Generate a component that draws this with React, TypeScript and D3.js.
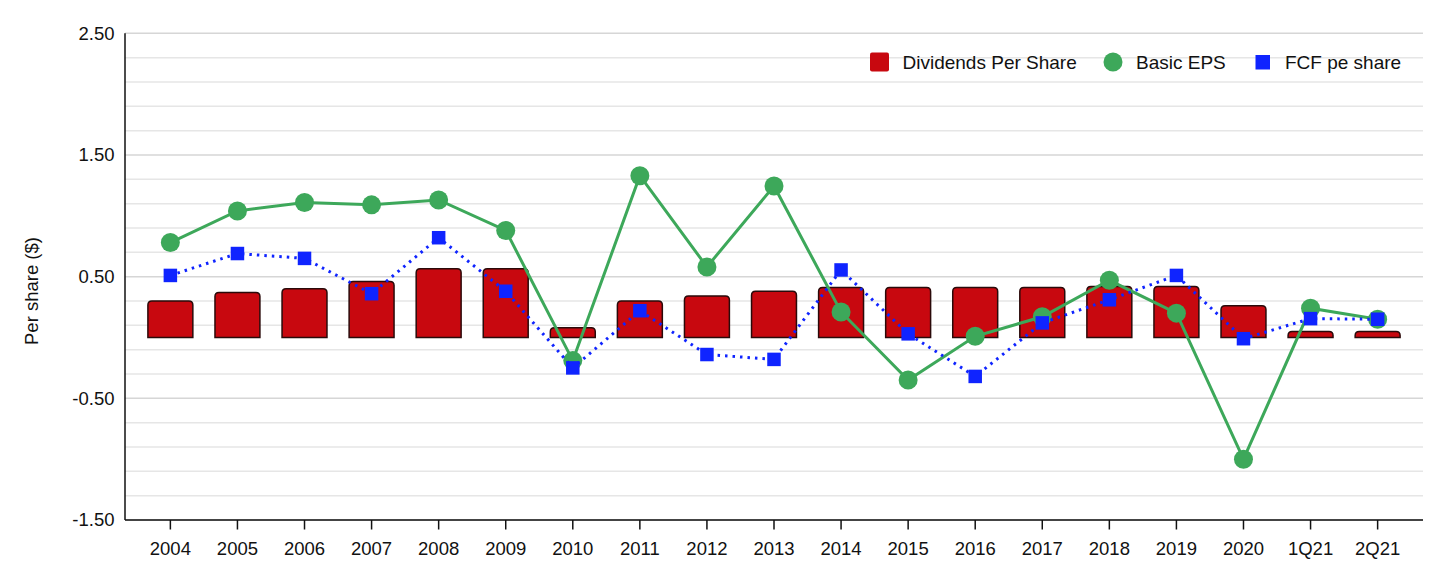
import React from "react";
import * as d3 from "d3";

const categories = ["2004","2005","2006","2007","2008","2009","2010","2011","2012","2013","2014","2015","2016","2017","2018","2019","2020","1Q21","2Q21"];
const dividends = [0.30,0.37,0.40,0.46,0.565,0.565,0.08,0.30,0.34,0.38,0.41,0.41,0.41,0.41,0.42,0.42,0.26,0.05,0.05];
const basicEPS = [0.78,1.04,1.11,1.09,1.13,0.88,-0.19,1.33,0.58,1.245,0.21,-0.35,0.01,0.17,0.47,0.20,-1.00,0.24,0.15];
const fcfPerShare = [0.51,0.69,0.65,0.36,0.82,0.38,-0.25,0.22,-0.14,-0.18,0.555,0.03,-0.32,0.12,0.31,0.51,-0.01,0.155,0.15];
const yLabelTicks = [-1.5,-0.5,0.5,1.5,2.5];
const yGridTicks = [-1.5,-1.3,-1.1,-0.9,-0.7,-0.5,-0.3,-0.1,0.1,0.3,0.5,0.7,0.9,1.1,1.3,1.5,1.7,1.9,2.1,2.3,2.5];
const legendItems = ["Dividends Per Share","Basic EPS","FCF pe share"];

const W = 1448, H = 572;
const FONT = "'Liberation Sans', Arial, Helvetica, sans-serif";
const RED = "#C8080F", GREEN = "#3DA85A", BLUE = "#0F24FF";

export default function App() {
  const x = d3.scaleBand<string>().domain(categories).range([125, 1423]).paddingInner(0.33).paddingOuter(0.3415);
  const y = d3.scaleLinear().domain([-1.5, 2.5]).range([520, 33.3]);
  const cx = (c: string) => (x(c) as number) + x.bandwidth() / 2;
  const y0 = y(0);
  const bw = x.bandwidth();

  const barPath = (c: string, v: number) => {
    const x0 = x(c) as number;
    const top = y(v);
    const h = y0 - top;
    const r = Math.min(4, h, bw / 2);
    return `M${x0},${y0} V${top + r} Q${x0},${top} ${x0 + r},${top} H${x0 + bw - r} Q${x0 + bw},${top} ${x0 + bw},${top + r} V${y0} Z`;
  };

  const line = d3.line<number>().x((_, i) => cx(categories[i])).y((d) => y(d));
  const isMajor = (t: number) => yLabelTicks.some((m) => Math.abs(m - t) < 1e-6);

  return (
    <svg width={W} height={H} style={{ position: "absolute", left: 0, top: 0, background: "#fff" }} fontFamily={FONT}>
      {yGridTicks.map((t) => (
        <line key={t} x1={125} x2={1423} y1={y(t)} y2={y(t)} stroke={isMajor(t) ? "#d6d6d6" : "#e6e6e6"} strokeWidth={1.5} />
      ))}
      {yLabelTicks.map((t) => (
        <text key={t} x={114.5} y={y(t)} dy="0.35em" textAnchor="end" fontSize={18.5} fill="#111">{t.toFixed(2)}</text>
      ))}
      <text transform={`translate(38,291) rotate(-90)`} textAnchor="middle" fontSize={18.5} fill="#111">Per share ($)</text>

      {categories.map((c, i) => (
        <path key={c} d={barPath(c, dividends[i])} fill={RED} stroke="#2a0a0a" strokeWidth={1.5} />
      ))}

      <path d={line(basicEPS) || ""} fill="none" stroke={GREEN} strokeWidth={3} />
      {categories.map((c, i) => (
        <circle key={c} cx={cx(c)} cy={y(basicEPS[i])} r={9.5} fill={GREEN} />
      ))}

      <path d={line(fcfPerShare) || ""} fill="none" stroke={BLUE} strokeWidth={3} strokeDasharray="2.5 5" />
      {categories.map((c, i) => (
        <rect key={c} x={cx(c) - 6.75} y={y(fcfPerShare[i]) - 6.75} width={13.5} height={13.5} fill={BLUE} />
      ))}

      <line x1={125} x2={125} y1={33.3} y2={520} stroke="#111" strokeWidth={1.5} />
      <line x1={125} x2={1423} y1={520} y2={520} stroke="#111" strokeWidth={1.5} />
      {categories.map((c) => (
        <g key={c}>
          <line x1={cx(c)} x2={cx(c)} y1={520} y2={529.5} stroke="#111" strokeWidth={1.5} />
          <text x={cx(c)} y={548.5} dy="0.35em" textAnchor="middle" fontSize={18.5} fill="#111">{c}</text>
        </g>
      ))}

      <g fontSize={19} fill="#111">
        <rect x={870} y={52.5} width={19} height={19} rx={2} fill={RED} />
        <text x={902.5} y={62} dy="0.35em">{legendItems[0]}</text>
        <circle cx={1113} cy={62} r={9.5} fill={GREEN} />
        <text x={1136} y={62} dy="0.35em">{legendItems[1]}</text>
        <rect x={1255.5} y={55} width={14.5} height={14.5} fill={BLUE} />
        <text x={1285} y={62} dy="0.35em">{legendItems[2]}</text>
      </g>
    </svg>
  );
}
